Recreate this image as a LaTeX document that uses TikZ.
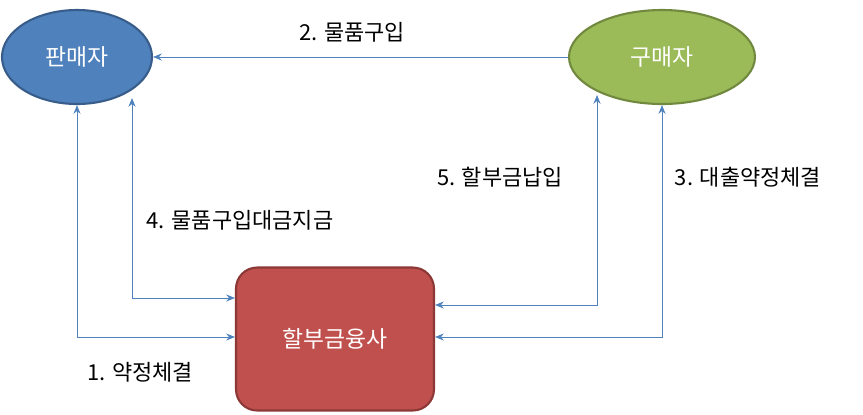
\documentclass[tikz,border=0pt]{standalone}
\usepackage{fontspec}
\setmainfont{Noto Sans CJK KR}
\usetikzlibrary{shapes.geometric,arrows.meta}
\definecolor{sellerblue}{HTML}{4F81BD}
\definecolor{sellerline}{HTML}{385D8A}
\definecolor{buyergreen}{HTML}{9BBB59}
\definecolor{buyerline}{HTML}{71893F}
\definecolor{firmred}{HTML}{C0504D}
\definecolor{firmline}{HTML}{8C3836}
\definecolor{wire}{HTML}{4F81BD}
\begin{document}
\begin{tikzpicture}[x=0.02cm,y=-0.02cm,font=\fontsize{12.5}{15}\selectfont]
	\tikzstyle{party}=[ellipse,line width=1.2pt,text=white,inner sep=0pt,font=\fontsize{13}{15}\selectfont]
	\tikzstyle{firm}=[rectangle,rounded corners=12pt,line width=1.2pt,text=white,fill=firmred,draw=firmline,font=\fontsize{13}{15}\selectfont]
	\tikzstyle{link}=[draw=wire,line width=0.5pt,{Stealth[length=5pt,width=4pt]}-{Stealth[length=5pt,width=4pt]}]
	\tikzstyle{annot}=[anchor=center]
	\useasboundingbox (0,0) rectangle (863,414);

	% Draw the parties
	\node[party,fill=sellerblue,draw=sellerline,minimum width=3cm,minimum height=1.88cm] (seller) at (77,57) {판매자};
	\node[party,fill=buyergreen,draw=buyerline,minimum width=3.72cm,minimum height=1.88cm] (buyer) at (662,57) {구매자};
	\node[firm,minimum width=3.96cm,minimum height=2.86cm] (lender) at (335,339) {할부금융사};

	% Connect the parties
	\draw[draw=wire,-{Stealth[length=5pt,width=4pt]}] (buyer.west) -- (seller.east);
	\draw[link] (seller.south) |- (lender.west |- 0,337);
	\draw[link] (132,98) |- (lender.west |- 0,298);
	\draw[link] (lender.east |- 0,305) -| (597,95);
	\draw[link] (lender.east |- 0,337) -| (buyer.south);

	% Annotate the connectors
	\node[annot] at (352,32) {2. 물품구입};
	\node[annot] at (140,372) {1. 약정체결};
	\node[annot] at (240,220) {4. 물품구입대금지금};
	\node[annot] at (500,177) {5. 할부금납입};
	\node[annot] at (748,177) {3. 대출약정체결};
\end{tikzpicture}
\end{document}
